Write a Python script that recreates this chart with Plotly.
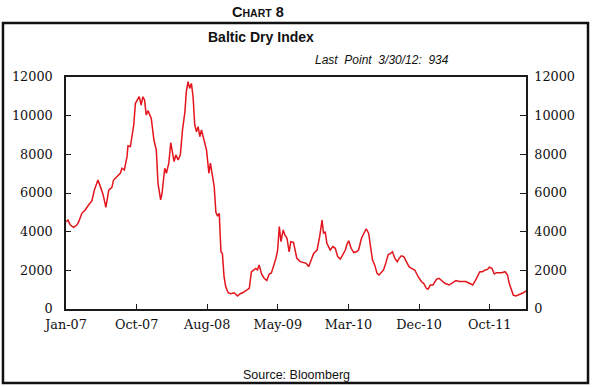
import plotly.graph_objects as go

# ---- data ----
dates = [
    "2007-01-02", "2007-01-09", "2007-01-19", "2007-02-02", "2007-02-15", "2007-02-23",
    "2007-03-08", "2007-03-22", "2007-04-05", "2007-04-19", "2007-04-29", "2007-05-14",
    "2007-05-24", "2007-06-03", "2007-06-11", "2007-06-16", "2007-06-28", "2007-07-11",
    "2007-07-18", "2007-08-01", "2007-08-15", "2007-08-22", "2007-09-01", "2007-09-12",
    "2007-09-16", "2007-09-26", "2007-10-03", "2007-10-10", "2007-10-17", "2007-10-24",
    "2007-11-02", "2007-11-10", "2007-11-17", "2007-11-24", "2007-12-01", "2007-12-08",
    "2007-12-22", "2008-01-02", "2008-01-12", "2008-01-19", "2008-01-26", "2008-01-30",
    "2008-02-05", "2008-02-16", "2008-02-23", "2008-03-04", "2008-03-12", "2008-03-19",
    "2008-03-26", "2008-04-02", "2008-04-12", "2008-04-21", "2008-04-30", "2008-05-10",
    "2008-05-16", "2008-05-23", "2008-05-30", "2008-06-06", "2008-06-13", "2008-06-20",
    "2008-06-27", "2008-07-04", "2008-07-11", "2008-07-18", "2008-07-28", "2008-08-08",
    "2008-08-18", "2008-08-24", "2008-08-31", "2008-09-09", "2008-09-16", "2008-09-23",
    "2008-09-30", "2008-10-07", "2008-10-13", "2008-10-20", "2008-10-27", "2008-11-06",
    "2008-11-17", "2008-12-01", "2008-12-15", "2008-12-26", "2009-01-05", "2009-01-19",
    "2009-02-02", "2009-02-11", "2009-02-19", "2009-03-01", "2009-03-08", "2009-03-15",
    "2009-03-25", "2009-04-05", "2009-04-16", "2009-04-26", "2009-05-05", "2009-05-14",
    "2009-05-24", "2009-05-31", "2009-06-07", "2009-06-14", "2009-06-23", "2009-06-30",
    "2009-07-09", "2009-07-18", "2009-07-25", "2009-08-05", "2009-08-12", "2009-08-19",
    "2009-09-02", "2009-09-16", "2009-09-27", "2009-10-07", "2009-10-17", "2009-10-28",
    "2009-11-11", "2009-11-22", "2009-12-02", "2009-12-08", "2009-12-15", "2009-12-22",
    "2010-01-05", "2010-01-16", "2010-01-26", "2010-02-05", "2010-02-16", "2010-02-27",
    "2010-03-09", "2010-03-16", "2010-03-23", "2010-04-02", "2010-04-13", "2010-04-24",
    "2010-05-03", "2010-05-15", "2010-05-24", "2010-06-04", "2010-06-14", "2010-06-21",
    "2010-06-30", "2010-07-09", "2010-07-19", "2010-07-27", "2010-08-06", "2010-08-15",
    "2010-08-24", "2010-09-03", "2010-09-13", "2010-09-21", "2010-10-01", "2010-10-11",
    "2010-10-19", "2010-10-28", "2010-11-07", "2010-11-18", "2010-11-29", "2010-12-09",
    "2010-12-23", "2011-01-06", "2011-01-20", "2011-01-29", "2011-02-09", "2011-02-16",
    "2011-02-26", "2011-03-09", "2011-03-23", "2011-04-03", "2011-04-13", "2011-04-27",
    "2011-05-15", "2011-05-29", "2011-06-12", "2011-06-26", "2011-07-10", "2011-07-24",
    "2011-08-07", "2011-08-21", "2011-09-01", "2011-09-11", "2011-09-20", "2011-10-01",
    "2011-10-12", "2011-10-22", "2011-10-29", "2011-11-09", "2011-11-19", "2011-11-28",
    "2011-12-10", "2011-12-20", "2012-01-03", "2012-01-13", "2012-01-20", "2012-01-27",
    "2012-02-06", "2012-02-17", "2012-02-28", "2012-03-09", "2012-03-19", "2012-03-30",
]
bdi = [
    4515, 4600, 4340, 4220, 4340, 4515,
    4950, 5120, 5380, 5600, 6150, 6670,
    6330, 5980, 5550, 5260, 6150, 6290,
    6670, 6840, 7020, 7280, 7190, 7880,
    8430, 8400, 9090, 9520, 10640, 10810,
    10980, 10550, 10980, 10810, 10030, 10260,
    9860, 8740, 8220, 6500, 6070, 5640,
    6000, 7280, 7020, 7540, 8600, 8050,
    7620, 7970, 7710, 7970, 9260, 10200,
    11240, 11760, 11410, 11670, 10980, 9520,
    9170, 9430, 8910, 9260, 8830, 8220,
    7020, 7540, 7020, 6330, 5000, 4800,
    4950, 2960, 2870, 1670, 1150, 840,
    790, 840, 670, 790, 840, 950,
    1070, 1930, 2020, 2100, 2020, 2280,
    1810, 1590, 1470, 1810, 1860, 2190,
    2620, 3050, 4260, 3480, 4090, 3830,
    3660, 2960, 3480, 3450, 2960, 2620,
    2450, 2400, 2360, 2190, 2530, 2870,
    3050, 3740, 4600, 3910, 4000, 3400,
    3050, 3230, 3140, 2710, 2580, 2800,
    3050, 3360, 3530, 3140, 2920, 2960,
    3050, 3660, 3910, 4150, 3910, 3400,
    2530, 2280, 1840, 1760, 1930, 2020,
    2360, 2800, 2870, 2960, 2620, 2450,
    2620, 2750, 2710, 2450, 2190, 2100,
    2020, 1670, 1410, 1330, 1070, 1020,
    1240, 1240, 1530, 1590, 1470, 1330,
    1240, 1380, 1470, 1420, 1420, 1420,
    1330, 1240, 1470, 1710, 1930, 1930,
    2020, 2050, 2160, 2100, 1810, 1880,
    1860, 1880, 1930, 1760, 1330, 1020,
    720, 670, 720, 770, 840, 934,
]

x_tick_dates = ["2007-01-01", "2007-10-22", "2008-08-11", "2009-06-01",
                "2010-03-22", "2011-01-10", "2011-10-31"]
x_tick_labels = ["Jan-07", "Oct-07", "Aug-08", "May-09", "Mar-10", "Dec-10", "Oct-11"]
y_ticks = [0, 2000, 4000, 6000, 8000, 10000, 12000]
y_tick_labels = ["0", "2000", "4000", "6000", "8000", "10000", "12000"]

chart_label = "C<span style='font-size:10.5px'>HART</span> 8"
title_text = "Baltic Dry Index"
last_point_text = "Last\u00a0 Point\u00a0 3/30/12:\u00a0 934"
source_text = "Source: Bloomberg"

# ---- figure ----
LINE_RED = "#e3141b"
AX = "#1a1a1a"
tick_font = dict(family="DejaVu Serif", size=12.8, color="#111")

fig = go.Figure()
fig.add_trace(go.Scatter(x=dates, y=bdi, mode="lines",
                         line=dict(color=LINE_RED, width=1.5),
                         showlegend=False, hoverinfo="x+y"))
fig.add_trace(go.Scatter(x=dates, y=bdi, mode="lines", yaxis="y2",
                         line=dict(color=LINE_RED, width=1.5), opacity=0,
                         showlegend=False, hoverinfo="skip"))

fig.update_layout(
    width=593, height=387,
    margin=dict(l=66, r=67, t=77, b=78),
    paper_bgcolor="white", plot_bgcolor="white",
    xaxis=dict(type="date", range=["2007-01-01", "2012-03-30"],
               tickvals=x_tick_dates, ticktext=x_tick_labels,
               ticks="inside", ticklen=5, tickwidth=1, tickcolor=AX,
               showline=True, linecolor=AX, linewidth=1.5, mirror=True,
               showgrid=False, zeroline=False, tickfont=tick_font,
               ticklabelstandoff=3),
    yaxis=dict(range=[0, 12000], tickvals=y_ticks, ticktext=y_tick_labels,
               ticks="inside", ticklen=5, tickwidth=1, tickcolor=AX,
               showline=True, linecolor=AX, linewidth=1.5,
               showgrid=False, zeroline=False, tickfont=tick_font,
               ticklabelstandoff=9),
    yaxis2=dict(range=[0, 12000], tickvals=y_ticks, ticktext=y_tick_labels,
                overlaying="y", side="right",
                ticks="inside", ticklen=6, tickwidth=1, tickcolor=AX,
                showline=True, linecolor=AX, linewidth=1.5,
                showgrid=False, zeroline=False, tickfont=tick_font,
                ticklabelstandoff=4),
)

# outer frame
fig.add_shape(type="rect", xref="paper", yref="paper",
              x0=-0.137, x1=1.1348, y0=-0.319, y1=1.2328,
              line=dict(color="#111", width=2.5), fillcolor="rgba(0,0,0,0)",
              layer="below")

sans = "Liberation Sans"
fig.add_annotation(text="<b>" + chart_label + "</b>", xref="paper", yref="paper",
                   x=0.4174, y=1.280, xanchor="center", yanchor="middle",
                   showarrow=False, font=dict(family=sans, size=14.5, color="#111"))
fig.add_annotation(text="<b>" + title_text + "</b>", xref="paper", yref="paper",
                   x=0.4239, y=1.172, xanchor="center", yanchor="middle",
                   showarrow=False, font=dict(family=sans, size=14, color="#111"))
fig.add_annotation(text="<i>" + last_point_text + "</i>", xref="paper", yref="paper",
                   x=0.837, y=1.073, xanchor="right", yanchor="middle",
                   showarrow=False, font=dict(family=sans, size=12, color="#111"))
fig.add_annotation(text=source_text, xref="paper", yref="paper",
                   x=0.502, y=-0.284, xanchor="center", yanchor="middle",
                   showarrow=False, font=dict(family=sans, size=12.5, color="#111"))

fig.write_html("out.html",
               config={"displayModeBar": False},
               post_script="document.body.style.margin='0';"
                           "document.body.style.overflow='hidden';")
